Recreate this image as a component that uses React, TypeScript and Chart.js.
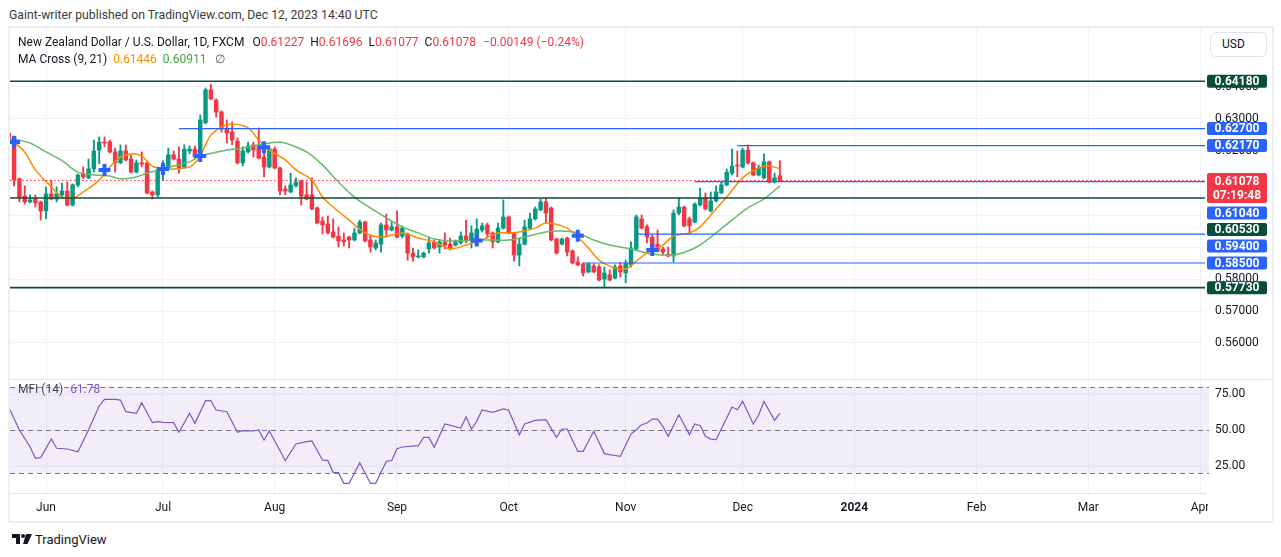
import React, { useEffect, useRef } from 'react';
import { Chart, registerables } from 'chart.js';

Chart.register(...registerables);
Chart.defaults.font.family = 'Roboto, sans-serif';

// ---------- data ----------
const FIRST_BAR = -7; // bar index of first candle (index 0 = 1 Jun 2023)

const opens = [
  0.6256, 0.6244, 0.6113, 0.6059, 0.6041, 0.605, 0.6041, 0.6013, 0.6066, 0.605,
  0.6063, 0.6075, 0.6031, 0.6094, 0.6128, 0.6116, 0.6144, 0.6203, 0.6228, 0.6228,
  0.6197, 0.6163, 0.62, 0.6175, 0.6134, 0.6163, 0.6163, 0.6072, 0.6063, 0.6134,
  0.6147, 0.6188, 0.6175, 0.615, 0.62, 0.6206, 0.6181, 0.6288, 0.6391, 0.6359,
  0.6322, 0.6269, 0.6259, 0.6231, 0.6163, 0.6197, 0.6219, 0.6219, 0.6181, 0.615,
  0.6206, 0.6147, 0.6081, 0.6072, 0.6091, 0.6106, 0.6063, 0.6063, 0.6022, 0.5981,
  0.5972, 0.5947, 0.5934, 0.5922, 0.5931, 0.5922, 0.5944, 0.5978, 0.5922, 0.5897,
  0.5909, 0.5969, 0.5953, 0.5963, 0.5934, 0.5941, 0.5881, 0.5869, 0.5869, 0.5894,
  0.5916, 0.59, 0.5916, 0.5909, 0.5906, 0.5913, 0.5934, 0.5922, 0.5922, 0.5953,
  0.5969, 0.5944, 0.5916, 0.5959, 0.5994, 0.5944, 0.5875, 0.5909, 0.5959, 0.5988,
  0.6016, 0.6041, 0.6022, 0.5925, 0.5909, 0.5928, 0.5888, 0.5853, 0.5847, 0.5822,
  0.5841, 0.5838, 0.58, 0.5813, 0.5803, 0.5841, 0.5819, 0.5844, 0.5894, 0.5988,
  0.5963, 0.5931, 0.5909, 0.5894, 0.5878, 0.5872, 0.6006, 0.6025, 0.5988, 0.5978,
  0.6031, 0.6053, 0.6013, 0.6044, 0.6069, 0.6094, 0.6131, 0.6156, 0.615, 0.6203,
  0.6163, 0.6125, 0.6116, 0.6166, 0.6103, 0.61227,
];
const highs = [
  0.63, 0.6247, 0.6116, 0.6091, 0.6063, 0.6063, 0.6044, 0.6088, 0.6109, 0.6088,
  0.61, 0.6103, 0.6097, 0.6128, 0.615, 0.6175, 0.6234, 0.6244, 0.6244, 0.6234,
  0.6209, 0.6219, 0.6219, 0.6188, 0.6172, 0.6197, 0.6166, 0.6075, 0.615, 0.6169,
  0.6209, 0.62, 0.6213, 0.6219, 0.6216, 0.6216, 0.6313, 0.6397, 0.6409, 0.6363,
  0.6325, 0.6297, 0.6291, 0.6241, 0.6213, 0.6228, 0.6228, 0.6272, 0.6197, 0.6213,
  0.6213, 0.615, 0.6091, 0.6131, 0.6116, 0.6109, 0.6103, 0.6116, 0.6025, 0.5994,
  0.5997, 0.5988, 0.5963, 0.5944, 0.5934, 0.5959, 0.5984, 0.5981, 0.5938, 0.5922,
  0.5975, 0.6003, 0.5978, 0.6013, 0.5966, 0.5944, 0.5897, 0.5891, 0.5884, 0.5931,
  0.5922, 0.5922, 0.5944, 0.5928, 0.5922, 0.5947, 0.5984, 0.5966, 0.5988, 0.5975,
  0.5975, 0.5947, 0.5975, 0.6047, 0.5997, 0.5947, 0.5928, 0.5984, 0.6006, 0.6025,
  0.605, 0.6053, 0.6025, 0.5928, 0.5928, 0.5931, 0.5891, 0.5869, 0.585, 0.585,
  0.5847, 0.5844, 0.5838, 0.5828, 0.5844, 0.5853, 0.5859, 0.5916, 0.6, 0.6,
  0.5969, 0.5938, 0.5953, 0.59, 0.59, 0.6016, 0.6053, 0.6028, 0.5994, 0.6038,
  0.6084, 0.6069, 0.6072, 0.6091, 0.6106, 0.6144, 0.6206, 0.62, 0.6209, 0.6219,
  0.6166, 0.6156, 0.6191, 0.6169, 0.6131, 0.61696,
];
const lows = [
  0.6225, 0.6091, 0.6041, 0.6034, 0.6038, 0.6025, 0.5984, 0.5988, 0.6047, 0.6041,
  0.6056, 0.6028, 0.6028, 0.6088, 0.6113, 0.6113, 0.6134, 0.616, 0.6213, 0.6194,
  0.6134, 0.616, 0.6169, 0.6131, 0.6131, 0.615, 0.6066, 0.605, 0.6056, 0.6109,
  0.6144, 0.6172, 0.6131, 0.6147, 0.6191, 0.6178, 0.6169, 0.6285, 0.636, 0.6306,
  0.6259, 0.6225, 0.6219, 0.6159, 0.6153, 0.6194, 0.6181, 0.6175, 0.6119, 0.6147,
  0.6144, 0.6063, 0.6063, 0.6069, 0.6088, 0.6031, 0.6047, 0.6016, 0.5972, 0.5941,
  0.5941, 0.5928, 0.59, 0.5903, 0.5897, 0.5919, 0.5941, 0.5916, 0.5884, 0.5891,
  0.5884, 0.5931, 0.595, 0.5928, 0.5928, 0.5859, 0.5856, 0.5866, 0.5866, 0.5881,
  0.5894, 0.5881, 0.5894, 0.5891, 0.5903, 0.5909, 0.5913, 0.5897, 0.5906, 0.5947,
  0.5928, 0.5897, 0.5913, 0.5956, 0.5941, 0.5856, 0.5841, 0.5906, 0.5956, 0.5984,
  0.6013, 0.5975, 0.5919, 0.5878, 0.5906, 0.5872, 0.5847, 0.5841, 0.5809, 0.5819,
  0.5819, 0.5794, 0.5772, 0.5794, 0.58, 0.5806, 0.5788, 0.5838, 0.5891, 0.5956,
  0.5913, 0.5884, 0.5884, 0.5875, 0.5869, 0.5853, 0.6, 0.5963, 0.5941, 0.5975,
  0.6028, 0.6016, 0.6009, 0.6041, 0.6066, 0.6091, 0.6125, 0.6119, 0.6147, 0.6159,
  0.6122, 0.6122, 0.6113, 0.61, 0.61, 0.61077,
];
const closes = [
  0.6228, 0.6109, 0.6056, 0.6041, 0.6047, 0.6038, 0.6013, 0.6066, 0.605, 0.6066,
  0.6075, 0.6031, 0.6094, 0.6125, 0.6119, 0.6144, 0.62, 0.6228, 0.6225, 0.6197,
  0.6163, 0.62, 0.6172, 0.6134, 0.6163, 0.6159, 0.6069, 0.6063, 0.6141, 0.6156,
  0.6188, 0.6175, 0.6147, 0.6206, 0.6206, 0.6181, 0.6297, 0.6391, 0.6363, 0.6322,
  0.6269, 0.6256, 0.6234, 0.6163, 0.62, 0.6216, 0.6203, 0.6178, 0.615, 0.6206,
  0.6147, 0.6075, 0.6075, 0.6094, 0.6103, 0.6059, 0.605, 0.6019, 0.5975, 0.5969,
  0.5944, 0.5931, 0.5919, 0.5916, 0.5922, 0.5944, 0.5978, 0.5919, 0.59, 0.5913,
  0.5969, 0.5953, 0.5963, 0.5931, 0.5959, 0.5881, 0.5869, 0.5872, 0.5881, 0.5913,
  0.5897, 0.5916, 0.5906, 0.5894, 0.5916, 0.5934, 0.5922, 0.5944, 0.5956, 0.5966,
  0.5941, 0.5916, 0.5959, 0.5994, 0.5944, 0.5875, 0.5909, 0.5963, 0.5988, 0.6019,
  0.6041, 0.6006, 0.5922, 0.5881, 0.5925, 0.5884, 0.585, 0.5844, 0.5819, 0.5847,
  0.5822, 0.5797, 0.5819, 0.5797, 0.5838, 0.5822, 0.585, 0.5897, 0.5994, 0.5959,
  0.5931, 0.59, 0.5888, 0.5884, 0.5872, 0.6006, 0.6025, 0.5966, 0.5966, 0.6034,
  0.6053, 0.6019, 0.6044, 0.6072, 0.6094, 0.6134, 0.6153, 0.6153, 0.6203, 0.6163,
  0.6125, 0.6147, 0.6166, 0.6103, 0.6116, 0.61078,
];

// MA Cross (9, 21)
const maFastIdx = [-7, -6, -4, -2, 1, 3, 5, 7, 10, 12, 14, 16, 18, 20, 22, 24, 27, 28, 29, 30, 31, 33, 35, 38, 40, 42, 45, 47, 50, 52, 54, 57, 60, 63, 67, 70, 73, 76, 79, 82, 85, 88, 92, 94, 97, 99, 102, 104, 107, 109, 111, 113, 116, 118, 121, 123, 126, 128, 131, 134, 136, 138];
const maFastVal = [0.6245, 0.6228, 0.6197, 0.6141, 0.6088, 0.6056, 0.6053, 0.6072, 0.6109, 0.615, 0.6181, 0.6191, 0.6184, 0.6153, 0.6144, 0.6144, 0.615, 0.6163, 0.6184, 0.6219, 0.625, 0.6275, 0.6284, 0.6272, 0.6234, 0.6203, 0.6172, 0.6141, 0.6109, 0.6056, 0.6025, 0.5984, 0.5944, 0.5931, 0.5944, 0.5928, 0.5916, 0.5894, 0.5906, 0.5922, 0.5944, 0.5944, 0.5959, 0.5975, 0.5966, 0.5947, 0.5897, 0.5859, 0.5834, 0.5831, 0.5856, 0.5881, 0.5906, 0.5934, 0.5944, 0.5963, 0.6019, 0.6056, 0.6116, 0.6147, 0.6153, 0.61446];
const maSlowIdx = [-7, -3, 0, 3, 6, 9, 12, 14, 17, 19, 22, 24, 27, 29, 34, 37, 42, 44, 46, 49, 52, 55, 58, 61, 64, 67, 70, 73, 76, 82, 87, 90, 94, 97, 100, 103, 106, 110, 114, 118, 122, 125, 129, 132, 135, 138];
const maSlowVal = [0.624, 0.6225, 0.6197, 0.617, 0.6134, 0.6125, 0.6122, 0.6113, 0.6119, 0.6131, 0.6144, 0.6153, 0.6166, 0.6184, 0.6203, 0.6209, 0.6225, 0.6228, 0.6219, 0.6197, 0.6156, 0.6103, 0.6056, 0.6022, 0.5991, 0.5963, 0.5944, 0.5925, 0.5919, 0.5922, 0.5922, 0.5931, 0.5947, 0.595, 0.5944, 0.5922, 0.5906, 0.5894, 0.5878, 0.5875, 0.5897, 0.5931, 0.5984, 0.6022, 0.605, 0.60911];
const crossIdx = [-6, 11, 22, 29, 41, 81, 100, 114];
const crossVal = [0.6228, 0.6141, 0.6144, 0.6184, 0.6212, 0.592, 0.5935, 0.5891];

// Horizontal levels drawn on the chart
const levelPrices = [0.6418, 0.627, 0.6217, 0.6104, 0.6053, 0.594, 0.585, 0.5773];
const levelStartIdx: (number | null)[] = [null, 25, 130, 122, null, 111, 101, null];
const levelKinds = ['major', 'minor', 'minor', 'minor', 'major', 'minor', 'minor', 'major'];
const lastPrice = 0.61078;
const countdown = '07:19:48';

// MFI (14)
const mfiIdx = [-7, -5, -3, -2, -1, 1, 2, 4, 6, 8, 10, 11, 13, 14, 15, 17, 18, 20, 21, 22, 24, 25, 27, 28, 30, 31, 32, 34, 36, 37, 39, 40, 41, 42, 45, 47, 49, 50, 52, 53, 54, 55, 56, 57, 59, 61, 62, 64, 65, 66, 67, 70, 71, 72, 73, 75, 78, 79, 80, 81, 82, 84, 86, 87, 89, 90, 92, 94, 96, 97, 98, 100, 101, 103, 105, 106, 108, 110, 111, 112, 113, 114, 115, 116, 117, 119, 121, 122, 123, 124, 125, 126, 128, 129, 130, 131, 133, 134, 135, 137, 138];
const mfiVals = [65.8, 50, 38.4, 30.3, 30.8, 43.7, 37.3, 36.8, 34.9, 50, 66.7, 71.3, 71.3, 70.8, 62.7, 61.6, 69, 55.1, 55.8, 55.3, 55.1, 48.4, 61.6, 54.6, 70.4, 70.4, 63.9, 62.7, 48.4, 49.5, 49.3, 50, 43.1, 49.3, 28.7, 40.3, 41.9, 42.4, 29.2, 28.7, 20.6, 20.4, 13, 13, 27.3, 13, 13, 28.3, 28.7, 37, 38.2, 39.1, 44.9, 44.9, 38, 54.2, 51.4, 59, 50.7, 56, 63.9, 62.3, 64.6, 63.7, 46.7, 54.2, 56.7, 57.2, 44.9, 50.7, 50.7, 35.2, 35.2, 49.1, 33.6, 32.9, 31.7, 47.2, 50.2, 53.7, 54.9, 57.6, 57.6, 52.5, 45.6, 60.6, 46.8, 54.2, 53.2, 45.6, 43.7, 43.3, 58.3, 66, 64.1, 69.9, 54.2, 60.2, 69.9, 56.7, 61.78];
const mfiBandHigh = 80;
const mfiBandMid = 50;
const mfiBandLow = 20;

// Axes
const monthTickIdx = [0, 22, 43, 66, 87, 109, 131, 152, 175, 196, 217];
const monthTickLabels = ['Jun', 'Jul', 'Aug', 'Sep', 'Oct', 'Nov', 'Dec', '2024', 'Feb', 'Mar', 'Apr'];
const priceTicks = [0.56, 0.57, 0.58, 0.59, 0.6, 0.61, 0.62, 0.63, 0.64];
const mfiTicks = [25, 50, 75];
const X_MIN = -6.77;
const X_MAX = 217.94;
const PRICE_MIN = 0.54875;
const PRICE_MAX = 0.6584375;
const MFI_MIN = 6.25;
const MFI_MAX = 85.42;

// Legend texts
const symbolTitle = 'New Zealand Dollar / U.S. Dollar, 1D, FXCM';
const ohlcText = { O: '0.61227', H: '0.61696', L: '0.61077', C: '0.61078' };
const changeText = '\u22120.00149 (\u22120.24%)';
const maTitle = 'MA Cross (9, 21)';
const maFastText = '0.61446';
const maSlowText = '0.60911';
const mfiTitle = 'MFI (14)';
const mfiText = '61.78';

// ---------- styles ----------
const UP = '#089981';
const DOWN = '#f23645';
const BLUE = '#2962ff';
const DARK = '#0b4d3b';
const ORANGE = '#fb8c00';
const MAGREEN = '#66bb6a';
const PURPLE = '#7e57c2';
const GRID = '#f0f3fa';
const TEXT = '#131722';

const overlayPlugin = {
  id: 'overlay',
  beforeDatasetsDraw(chart: any) {
    const { ctx, chartArea } = chart;
    const m = chart.scales.mfi;
    const yTop = m.getPixelForValue(mfiBandHigh);
    const yBot = m.getPixelForValue(mfiBandLow);
    ctx.save();
    ctx.fillStyle = 'rgba(126,87,194,0.1)';
    ctx.fillRect(chartArea.left, yTop, chartArea.right - chartArea.left + 4, yBot - yTop);
    ctx.strokeStyle = '#787b86';
    ctx.lineWidth = 1;
    ctx.setLineDash([5, 4]);
    for (const v of [mfiBandHigh, mfiBandMid, mfiBandLow]) {
      const y = Math.round(m.getPixelForValue(v)) + 0.5;
      ctx.beginPath();
      ctx.moveTo(chartArea.left, y);
      ctx.lineTo(chartArea.right + 4, y);
      ctx.stroke();
    }
    ctx.restore();
  },
  afterDraw(chart: any) {
    const { ctx, chartArea, scales, width } = chart;
    ctx.save();
    // pane separator
    ctx.strokeStyle = '#e0e3eb';
    ctx.lineWidth = 1;
    const sepY = Math.round(scales.y.bottom) + 0.5;
    ctx.beginPath();
    ctx.moveTo(0, sepY);
    ctx.lineTo(width, sepY);
    ctx.stroke();
    // clip time labels past the pane
    ctx.fillStyle = '#ffffff';
    ctx.fillRect(chartArea.right + 3, chartArea.bottom + 1, width - chartArea.right, 40);

    // price labels on the right scale
    const items: { price: number; color: string; lines: string[] }[] = levelPrices.map((p, i) => ({
      price: p,
      color: levelKinds[i] === 'major' ? DARK : BLUE,
      lines: [p.toFixed(5)],
    }));
    items.push({ price: lastPrice, color: DOWN, lines: [lastPrice.toFixed(5), countdown] });
    items.sort((a, b) => b.price - a.price);
    let prevBottom = -Infinity;
    const bx = chartArea.right + 2;
    const bw = 60;
    for (const it of items) {
      const py = scales.y.getPixelForValue(it.price);
      const two = it.lines.length > 1;
      const h = two ? 30 : 13;
      let top = py - (two ? 7.5 : 6.5);
      if (top < prevBottom + 3.5) top = prevBottom + 3.5;
      ctx.fillStyle = it.color;
      ctx.beginPath();
      if (ctx.roundRect) ctx.roundRect(bx, top, bw, h, 2);
      else ctx.rect(bx, top, bw, h);
      ctx.fill();
      ctx.fillStyle = '#ffffff';
      ctx.textAlign = 'center';
      ctx.textBaseline = 'middle';
      ctx.font = 'bold 12px Roboto, sans-serif';
      ctx.fillText(it.lines[0], bx + bw / 2, top + (two ? 8.5 : 7));
      if (two) ctx.fillText(it.lines[1], bx + bw / 2, top + 22.5);
      prevBottom = top + h;
    }
    ctx.restore();
  },
};

export default function App() {
  const canvasRef = useRef<HTMLCanvasElement>(null);

  useEffect(() => {
    const canvas = canvasRef.current;
    if (!canvas) return;
    const barX = opens.map((_, i) => FIRST_BAR + i);
    const colors = opens.map((o, i) => (closes[i] >= o ? UP : DOWN));

    const levelSets = levelPrices.map((p, i) => ({
      type: 'line' as const,
      data: [
        { x: levelStartIdx[i] ?? X_MIN, y: p },
        { x: X_MAX, y: p },
      ],
      borderColor: levelKinds[i] === 'major' ? DARK : BLUE,
      borderWidth: levelKinds[i] === 'major' ? 1.6 : 1.2,
      pointRadius: 0,
      yAxisID: 'y',
      order: 1,
    }));

    const chart = new Chart(canvas, {
      type: 'bar',
      data: {
        datasets: [
          {
            type: 'line',
            data: [
              { x: X_MIN, y: lastPrice },
              { x: X_MAX, y: lastPrice },
            ],
            borderColor: DOWN,
            borderWidth: 1,
            borderDash: [1.5, 2.5],
            pointRadius: 0,
            yAxisID: 'y',
            order: 9,
          } as any,
          {
            type: 'bar',
            data: barX.map((x, i) => ({ x, y: [lows[i], highs[i]] })),
            backgroundColor: colors,
            barThickness: 1.2,
            grouped: false,
            yAxisID: 'y',
            order: 8,
          } as any,
          {
            type: 'bar',
            data: barX.map((x, i) => ({ x, y: [opens[i], closes[i]] })),
            backgroundColor: colors,
            barThickness: 3.8,
            minBarLength: 1,
            grouped: false,
            yAxisID: 'y',
            order: 7,
          } as any,
          {
            type: 'line',
            data: maSlowIdx.map((x, i) => ({ x, y: maSlowVal[i] })),
            borderColor: MAGREEN,
            borderWidth: 1.5,
            pointRadius: 0,
            tension: 0.35,
            yAxisID: 'y',
            order: 5,
          } as any,
          {
            type: 'line',
            data: maFastIdx.map((x, i) => ({ x, y: maFastVal[i] })),
            borderColor: ORANGE,
            borderWidth: 1.5,
            pointRadius: 0,
            tension: 0.35,
            yAxisID: 'y',
            order: 4,
          } as any,
          ...(levelSets as any[]),
          {
            type: 'line',
            data: crossIdx.map((x, i) => ({ x, y: crossVal[i] })),
            showLine: false,
            pointStyle: 'cross',
            pointRadius: 6,
            pointBorderWidth: 4,
            pointBorderColor: BLUE,
            pointBackgroundColor: BLUE,
            yAxisID: 'y',
            order: 0,
          } as any,
          {
            type: 'line',
            data: mfiIdx.map((x, i) => ({ x, y: mfiVals[i] })),
            borderColor: PURPLE,
            borderWidth: 1.2,
            pointRadius: 0,
            tension: 0,
            yAxisID: 'mfi',
            order: 2,
          } as any,
        ],
      },
      options: {
        animation: false,
        responsive: false,
        events: [],
        layout: { padding: 0, autoPadding: false },
        plugins: { legend: { display: false }, tooltip: { enabled: false } },
        scales: {
          x: {
            type: 'linear',
            min: X_MIN,
            max: X_MAX,
            offset: false,
            afterBuildTicks: (s: any) => {
              s.ticks = monthTickIdx.map((v) => ({ value: v }));
            },
            afterFit: (s: any) => {
              s.height = 28;
              s.paddingLeft = 0;
              s.paddingRight = 0;
            },
            ticks: {
              autoSkip: false,
              maxRotation: 0,
              padding: 8,
              color: TEXT,
              callback: (v: any) => monthTickLabels[monthTickIdx.indexOf(Number(v))] ?? '',
              font: (c: any) => ({
                size: 12,
                weight: monthTickLabels[c.index] === '2024' ? 'bold' : 'normal',
              }),
            },
            grid: { color: GRID, drawTicks: false, offset: false },
            border: { color: '#e0e3eb' },
          } as any,
          y: {
            type: 'linear',
            position: 'right',
            stack: 'panes',
            stackWeight: 351,
            min: PRICE_MIN,
            max: PRICE_MAX,
            beginAtZero: false,
            afterBuildTicks: (s: any) => {
              s.ticks = priceTicks.map((v) => ({ value: v }));
            },
            afterFit: (s: any) => {
              s.width = 66;
              s.paddingTop = 0;
              s.paddingBottom = 0;
            },
            ticks: {
              padding: 10,
              color: TEXT,
              font: { size: 12 },
              callback: (v: any) => Number(v).toFixed(5),
            },
            grid: { color: GRID, drawTicks: false },
            border: { display: false },
          } as any,
          mfi: {
            type: 'linear',
            position: 'right',
            stack: 'panes',
            stackWeight: 114,
            min: MFI_MIN,
            max: MFI_MAX,
            afterBuildTicks: (s: any) => {
              s.ticks = mfiTicks.map((v) => ({ value: v }));
            },
            afterFit: (s: any) => {
              s.width = 66;
              s.paddingTop = 0;
              s.paddingBottom = 0;
            },
            ticks: {
              padding: 10,
              color: TEXT,
              font: { size: 12 },
              callback: (v: any) => Number(v).toFixed(2),
            },
            grid: { color: GRID, drawTicks: false },
            border: { display: false },
          } as any,
        },
      },
      plugins: [overlayPlugin],
    } as any);
    return () => chart.destroy();
  }, []);

  const abs = (l: number, t: number): React.CSSProperties => ({ position: 'absolute', left: l, top: t, whiteSpace: 'nowrap' });

  return (
    <div style={{ position: 'absolute', left: 0, top: 0, width: 1281, height: 557, background: '#fff', fontFamily: 'Roboto, sans-serif', color: TEXT, overflow: 'hidden' }}>
      <div style={{ ...abs(9, 7), fontSize: 12.25, lineHeight: '16px', color: '#3c3c3c' }}>
        Gaint-writer published on TradingView.com, Dec 12, 2023 14:40 UTC
      </div>
      <div style={{ position: 'absolute', left: 8, top: 26, width: 1266, height: 497, border: '2px solid #eceef2', boxSizing: 'border-box' }} />
      <canvas ref={canvasRef} width={1261} height={493} style={{ position: 'absolute', left: 10, top: 28, width: 1261, height: 493 }} />
      <div style={{ ...abs(18, 34), fontSize: 12, lineHeight: '16px' }}>
        <span>{symbolTitle}</span>
        <span style={{ marginLeft: 8 }}>O<span style={{ color: DOWN }}>{ohlcText.O}</span></span>
        <span style={{ marginLeft: 6 }}>H<span style={{ color: DOWN }}>{ohlcText.H}</span></span>
        <span style={{ marginLeft: 6 }}>L<span style={{ color: DOWN }}>{ohlcText.L}</span></span>
        <span style={{ marginLeft: 6 }}>C<span style={{ color: DOWN }}>{ohlcText.C}</span></span>
        <span style={{ marginLeft: 7, color: DOWN }}>{changeText}</span>
      </div>
      <div style={{ ...abs(18, 51), fontSize: 12, lineHeight: '16px' }}>
        <span>{maTitle}</span>
        <span style={{ marginLeft: 6, color: ORANGE }}>{maFastText}</span>
        <span style={{ marginLeft: 6, color: '#43a047' }}>{maSlowText}</span>
        <span style={{ marginLeft: 8, color: '#555' }}>∅</span>
      </div>
      <div style={{ position: 'absolute', left: 1210, top: 32, width: 57, height: 25, border: '1px solid #e0e3eb', borderRadius: 6, boxSizing: 'border-box', fontSize: 12, lineHeight: '23px', paddingLeft: 11, background: '#fff' }}>
        USD
      </div>
      <div style={{ ...abs(18, 381), fontSize: 12, lineHeight: '16px', color: '#434651' }}>
        {mfiTitle}
        <span style={{ marginLeft: 7, color: PURPLE }}>{mfiText}</span>
      </div>
      <div style={{ ...abs(12, 531), display: 'flex', alignItems: 'center', height: 16 }}>
        <svg width="20" height="12" viewBox="0 0 20 12">
          <rect x="0" y="1" width="8" height="4" fill={TEXT} />
          <rect x="4" y="1" width="4" height="10" fill={TEXT} />
          <circle cx="11" cy="3" r="2" fill={TEXT} />
          <polygon points="14,1 20,1 15.5,11 11,11" fill={TEXT} />
        </svg>
        <span style={{ marginLeft: 3, fontSize: 13, color: TEXT }}>TradingView</span>
      </div>
    </div>
  );
}
